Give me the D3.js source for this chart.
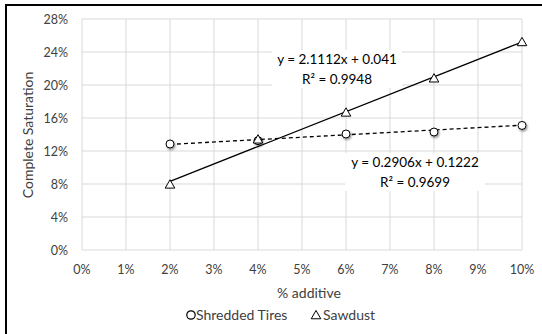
<!DOCTYPE html>
<html>
<head>
<meta charset="utf-8">
<script src="https://cdn.jsdelivr.net/npm/d3@7"></script>
<style>
  body { margin: 0; background: #fff; }
  svg { display: block; font-family: "Lato", "Open Sans", sans-serif; }
</style>
</head>
<body>
<svg id="chart" width="542" height="334"></svg>
<script>
const additive = [0.02, 0.04, 0.06, 0.08, 0.10]
const tires = [0.1285, 0.1325, 0.1406, 0.143, 0.151]
const sawdust = [0.0784, 0.133, 0.1656, 0.207, 0.251]
const xTicks = [0, 0.01, 0.02, 0.03, 0.04, 0.05, 0.06, 0.07, 0.08, 0.09, 0.10]
const yTicks = [0, 0.04, 0.08, 0.12, 0.16, 0.20, 0.24, 0.28]
// trendline coefficients as printed on the chart
const tiresFit = { slope: 0.2906, intercept: 0.1222, r2: 0.9699 }
const sawFit = { slope: 2.1112, intercept: 0.041, r2: 0.9948 }

const svg = d3.select("#chart")

const x = d3.scaleLinear().domain([0, 0.10]).range([82, 522])
const y = d3.scaleLinear().domain([0, 0.28]).range([250, 19])
const pct = d3.format(".0%")

// frame (top and left edges only are visible)
svg.append("path")
  .attr("d", "M6,334 V5 H542")
  .attr("fill", "none")
  .attr("stroke", "#000")
  .attr("stroke-width", 2)

// grid
svg.append("g")
  .selectAll("line")
  .data(yTicks)
  .join("line")
    .attr("x1", x(0)).attr("x2", x(0.10))
    .attr("y1", d => y(d)).attr("y2", d => y(d))
    .attr("stroke", "#d9d9d9")
svg.append("g")
  .selectAll("line")
  .data(xTicks)
  .join("line")
    .attr("x1", d => x(d)).attr("x2", d => x(d))
    .attr("y1", y(0)).attr("y2", y(0.28))
    .attr("stroke", "#d9d9d9")

// tick labels
svg.append("g")
    .attr("font-size", 12.5)
    .attr("fill", "#404040")
    .attr("text-anchor", "end")
  .selectAll("text")
  .data(yTicks)
  .join("text")
    .attr("x", 68)
    .attr("y", d => y(d) + 4.5)
    .text(pct)
svg.append("g")
    .attr("font-size", 12.5)
    .attr("fill", "#404040")
    .attr("text-anchor", "middle")
  .selectAll("text")
  .data(xTicks)
  .join("text")
    .attr("x", d => x(d))
    .attr("y", 274)
    .text(pct)

// axis titles
svg.append("text")
  .attr("transform", "translate(33,135) rotate(-90)")
  .attr("text-anchor", "middle")
  .attr("font-size", 14)
  .attr("fill", "#404040")
  .text("Complete Saturation")
svg.append("text")
  .attr("x", 309).attr("y", 298)
  .attr("text-anchor", "middle")
  .attr("font-size", 14)
  .attr("fill", "#404040")
  .text("% additive")

// trendlines
const xs = d3.extent(additive)
const trend = f => xs.map(v => [x(v), y(f.slope * v + f.intercept)])
svg.append("path")
  .attr("d", d3.line()(trend(sawFit)))
  .attr("stroke", "#000").attr("stroke-width", 1.3).attr("fill", "none")
svg.append("path")
  .attr("d", d3.line()(trend(tiresFit)))
  .attr("stroke", "#000").attr("stroke-width", 1.3).attr("fill", "none")
  .attr("stroke-dasharray", "4,3")

// equation labels
const eq = (f, cx, cy, w) => {
  const g = svg.append("g")
  g.append("rect")
    .attr("x", cx - w / 2).attr("y", cy - 14).attr("width", w).attr("height", 38)
    .attr("fill", "#fff")
  g.append("text")
    .attr("x", cx).attr("y", cy)
    .attr("text-anchor", "middle").attr("font-size", 13.5).attr("fill", "#000")
    .text(`y = ${f.slope}x + ${f.intercept}`)
  g.append("text")
    .attr("x", cx).attr("y", cy + 19.5)
    .attr("text-anchor", "middle").attr("font-size", 13.5).attr("fill", "#000")
    .text(`R² = ${f.r2}`)
}
eq(sawFit, 337, 64, 130)
eq(tiresFit, 415, 167, 140)

// markers
const shadow = svg.append("defs").append("filter")
  .attr("id", "sh").attr("x", "-50%").attr("y", "-50%").attr("width", "200%").attr("height", "200%")
shadow.append("feDropShadow")
  .attr("dx", 1).attr("dy", 1.5).attr("stdDeviation", 1.2).attr("flood-color", "#000").attr("flood-opacity", 0.45)

svg.append("g")
  .selectAll("circle")
  .data(additive.map((v, i) => [v, tires[i]]))
  .join("circle")
    .attr("cx", d => x(d[0])).attr("cy", d => y(d[1]))
    .attr("r", 4)
    .attr("fill", "#fff").attr("stroke", "#000").attr("stroke-width", 1)
    .attr("filter", "url(#sh)")

const tri = d3.symbol().type(d3.symbolTriangle).size(40)
svg.append("g")
  .selectAll("path")
  .data(additive.map((v, i) => [v, sawdust[i]]))
  .join("path")
    .attr("transform", d => `translate(${x(d[0])},${y(d[1])})`)
    .attr("d", tri)
    .attr("fill", "#fff").attr("stroke", "#000").attr("stroke-width", 1)

// legend
const lg = svg.append("g").attr("font-size", 14).attr("fill", "#404040")
lg.append("circle").attr("cx", 191).attr("cy", 315).attr("r", 4.2)
  .attr("fill", "none").attr("stroke", "#000").attr("stroke-width", 1.2)
lg.append("text").attr("x", 196).attr("y", 320).text("Shredded Tires")
lg.append("path").attr("transform", "translate(316,316)")
  .attr("d", d3.symbol().type(d3.symbolTriangle).size(40))
  .attr("fill", "none").attr("stroke", "#000").attr("stroke-width", 1)
lg.append("text").attr("x", 323).attr("y", 320).text("Sawdust")
</script>
</body>
</html>
